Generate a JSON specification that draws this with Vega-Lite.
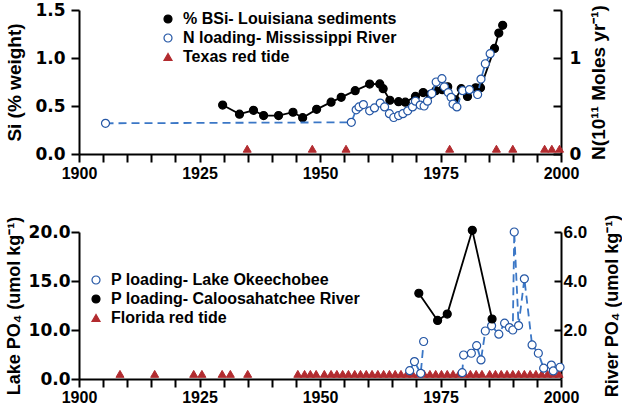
{
  "$schema": "https://vega.github.io/schema/vega-lite/v6.json",
  "padding": {"left": 5, "top": 1, "right": 0, "bottom": 0},
  "background": "white",
  "config": {
    "view": {"stroke": null},
    "font": "Liberation Sans",
    "axis": {"domainColor": "black", "domainWidth": 2, "tickColor": "black", "tickWidth": 2, "tickSize": 8, "labelFont": "Liberation Sans", "labelFontWeight": "bold", "labelColor": "black", "labelFontSize": 17, "grid": false, "titleFont": "Liberation Sans", "titleFontWeight": "bold", "titleColor": "black", "titleFontSize": 18, "labelPadding": 4},
    "legend": {"labelFont": "Liberation Sans", "labelFontSize": 16, "labelFontWeight": "bold", "labelColor": "black", "labelLimit": 400, "symbolStrokeWidth": 1.2, "rowPadding": 3, "labelOffset": 7, "padding": 0, "symbolOpacity": 1}
  },
  "datasets": {
    "west": [
      {"series": "% BSi- Louisiana sediments", "year": 1929.8, "value": 0.51},
      {"series": "% BSi- Louisiana sediments", "year": 1933.3, "value": 0.415},
      {"series": "% BSi- Louisiana sediments", "year": 1936.2, "value": 0.455},
      {"series": "% BSi- Louisiana sediments", "year": 1938.3, "value": 0.4},
      {"series": "% BSi- Louisiana sediments", "year": 1941.4, "value": 0.4},
      {"series": "% BSi- Louisiana sediments", "year": 1944.4, "value": 0.435},
      {"series": "% BSi- Louisiana sediments", "year": 1946.4, "value": 0.378},
      {"series": "% BSi- Louisiana sediments", "year": 1949.3, "value": 0.465},
      {"series": "% BSi- Louisiana sediments", "year": 1952.3, "value": 0.54},
      {"series": "% BSi- Louisiana sediments", "year": 1954.4, "value": 0.59},
      {"series": "% BSi- Louisiana sediments", "year": 1957.3, "value": 0.66},
      {"series": "% BSi- Louisiana sediments", "year": 1960.3, "value": 0.728},
      {"series": "% BSi- Louisiana sediments", "year": 1962.4, "value": 0.73},
      {"series": "% BSi- Louisiana sediments", "year": 1963.1, "value": 0.68},
      {"series": "% BSi- Louisiana sediments", "year": 1964.5, "value": 0.56},
      {"series": "% BSi- Louisiana sediments", "year": 1966.3, "value": 0.545},
      {"series": "% BSi- Louisiana sediments", "year": 1967.7, "value": 0.54},
      {"series": "% BSi- Louisiana sediments", "year": 1969.8, "value": 0.6},
      {"series": "% BSi- Louisiana sediments", "year": 1971.4, "value": 0.64},
      {"series": "% BSi- Louisiana sediments", "year": 1972.8, "value": 0.62},
      {"series": "% BSi- Louisiana sediments", "year": 1974.0, "value": 0.66},
      {"series": "% BSi- Louisiana sediments", "year": 1975.4, "value": 0.67},
      {"series": "% BSi- Louisiana sediments", "year": 1976.5, "value": 0.7},
      {"series": "% BSi- Louisiana sediments", "year": 1978.1, "value": 0.565},
      {"series": "% BSi- Louisiana sediments", "year": 1979.3, "value": 0.68},
      {"series": "% BSi- Louisiana sediments", "year": 1980.6, "value": 0.6},
      {"series": "% BSi- Louisiana sediments", "year": 1982.3, "value": 0.69},
      {"series": "% BSi- Louisiana sediments", "year": 1983.3, "value": 0.69},
      {"series": "% BSi- Louisiana sediments", "year": 1986.2, "value": 1.1},
      {"series": "% BSi- Louisiana sediments", "year": 1987.1, "value": 1.26},
      {"series": "% BSi- Louisiana sediments", "year": 1987.9, "value": 1.34},
      {"series": "N loading- Mississippi River", "year": 1905.5, "value": 0.32},
      {"series": "N loading- Mississippi River", "year": 1956.5, "value": 0.33},
      {"series": "N loading- Mississippi River", "year": 1957.5, "value": 0.46},
      {"series": "N loading- Mississippi River", "year": 1958.1, "value": 0.49},
      {"series": "N loading- Mississippi River", "year": 1959.0, "value": 0.515},
      {"series": "N loading- Mississippi River", "year": 1960.3, "value": 0.45},
      {"series": "N loading- Mississippi River", "year": 1961.3, "value": 0.48},
      {"series": "N loading- Mississippi River", "year": 1962.5, "value": 0.53},
      {"series": "N loading- Mississippi River", "year": 1963.4, "value": 0.49},
      {"series": "N loading- Mississippi River", "year": 1964.4, "value": 0.42},
      {"series": "N loading- Mississippi River", "year": 1965.3, "value": 0.38},
      {"series": "N loading- Mississippi River", "year": 1966.3, "value": 0.4},
      {"series": "N loading- Mississippi River", "year": 1967.2, "value": 0.42},
      {"series": "N loading- Mississippi River", "year": 1968.2, "value": 0.45},
      {"series": "N loading- Mississippi River", "year": 1969.2, "value": 0.49},
      {"series": "N loading- Mississippi River", "year": 1969.8, "value": 0.55},
      {"series": "N loading- Mississippi River", "year": 1970.8, "value": 0.51},
      {"series": "N loading- Mississippi River", "year": 1971.6, "value": 0.5},
      {"series": "N loading- Mississippi River", "year": 1972.3, "value": 0.55},
      {"series": "N loading- Mississippi River", "year": 1973.2, "value": 0.63},
      {"series": "N loading- Mississippi River", "year": 1974.1, "value": 0.75},
      {"series": "N loading- Mississippi River", "year": 1975.3, "value": 0.785},
      {"series": "N loading- Mississippi River", "year": 1975.8, "value": 0.7},
      {"series": "N loading- Mississippi River", "year": 1976.6, "value": 0.64},
      {"series": "N loading- Mississippi River", "year": 1977.2, "value": 0.59},
      {"series": "N loading- Mississippi River", "year": 1977.6, "value": 0.52},
      {"series": "N loading- Mississippi River", "year": 1978.4, "value": 0.49},
      {"series": "N loading- Mississippi River", "year": 1979.6, "value": 0.66},
      {"series": "N loading- Mississippi River", "year": 1981.0, "value": 0.67},
      {"series": "N loading- Mississippi River", "year": 1982.7, "value": 0.62},
      {"series": "N loading- Mississippi River", "year": 1983.4, "value": 0.78},
      {"series": "N loading- Mississippi River", "year": 1984.3, "value": 0.94},
      {"series": "N loading- Mississippi River", "year": 1985.3, "value": 1.045},
      {"series": "Texas red tide", "year": 1934.9},
      {"series": "Texas red tide", "year": 1948.4},
      {"series": "Texas red tide", "year": 1955.4},
      {"series": "Texas red tide", "year": 1976.9},
      {"series": "Texas red tide", "year": 1986.6},
      {"series": "Texas red tide", "year": 1990.0},
      {"series": "Texas red tide", "year": 1996.6},
      {"series": "Texas red tide", "year": 1998.1},
      {"series": "Texas red tide", "year": 1999.7}
    ],
    "east": [
      {"series": "P loading- Lake Okeechobee", "seg": 1, "year": 1968.6, "value": 0.34},
      {"series": "P loading- Lake Okeechobee", "seg": 1, "year": 1969.6, "value": 0.71},
      {"series": "P loading- Lake Okeechobee", "seg": 1, "year": 1970.9, "value": 0.23},
      {"series": "P loading- Lake Okeechobee", "seg": 1, "year": 1971.5, "value": 1.53},
      {"series": "P loading- Lake Okeechobee", "seg": 2, "year": 1979.5, "value": 0.26},
      {"series": "P loading- Lake Okeechobee", "seg": 2, "year": 1979.8, "value": 0.98},
      {"series": "P loading- Lake Okeechobee", "seg": 2, "year": 1981.4, "value": 1.05},
      {"series": "P loading- Lake Okeechobee", "seg": 2, "year": 1982.5, "value": 1.36},
      {"series": "P loading- Lake Okeechobee", "seg": 2, "year": 1983.4, "value": 0.78},
      {"series": "P loading- Lake Okeechobee", "seg": 2, "year": 1984.3, "value": 1.96},
      {"series": "P loading- Lake Okeechobee", "seg": 2, "year": 1985.6, "value": 2.17},
      {"series": "P loading- Lake Okeechobee", "seg": 2, "year": 1987.1, "value": 1.83},
      {"series": "P loading- Lake Okeechobee", "seg": 2, "year": 1988.3, "value": 2.28},
      {"series": "P loading- Lake Okeechobee", "seg": 2, "year": 1989.3, "value": 2.1},
      {"series": "P loading- Lake Okeechobee", "seg": 2, "year": 1990.0, "value": 2.0},
      {"series": "P loading- Lake Okeechobee", "seg": 2, "year": 1990.3, "value": 6.0},
      {"series": "P loading- Lake Okeechobee", "seg": 2, "year": 1991.2, "value": 2.18},
      {"series": "P loading- Lake Okeechobee", "seg": 2, "year": 1992.4, "value": 4.09},
      {"series": "P loading- Lake Okeechobee", "seg": 2, "year": 1994.0, "value": 1.39},
      {"series": "P loading- Lake Okeechobee", "seg": 2, "year": 1995.3, "value": 1.05},
      {"series": "P loading- Lake Okeechobee", "seg": 2, "year": 1996.4, "value": 0.44},
      {"series": "P loading- Lake Okeechobee", "seg": 2, "year": 1998.0, "value": 0.57},
      {"series": "P loading- Lake Okeechobee", "seg": 2, "year": 1998.4, "value": 0.33},
      {"series": "P loading- Lake Okeechobee", "seg": 2, "year": 1999.8, "value": 0.48},
      {"series": "P loading- Caloosahatchee River", "seg": 1, "year": 1970.5, "value": 3.5},
      {"series": "P loading- Caloosahatchee River", "seg": 1, "year": 1974.4, "value": 2.39},
      {"series": "P loading- Caloosahatchee River", "seg": 1, "year": 1976.4, "value": 2.65},
      {"series": "P loading- Caloosahatchee River", "seg": 1, "year": 1981.6, "value": 6.07},
      {"series": "P loading- Caloosahatchee River", "seg": 1, "year": 1985.7, "value": 2.45},
      {"series": "Florida red tide", "year": 1908.5},
      {"series": "Florida red tide", "year": 1915.7},
      {"series": "Florida red tide", "year": 1923.8},
      {"series": "Florida red tide", "year": 1925.5},
      {"series": "Florida red tide", "year": 1929.7},
      {"series": "Florida red tide", "year": 1931.4},
      {"series": "Florida red tide", "year": 1935.0},
      {"series": "Florida red tide", "year": 1945.4},
      {"series": "Florida red tide", "year": 1946.8},
      {"series": "Florida red tide", "year": 1948.0},
      {"series": "Florida red tide", "year": 1949.2},
      {"series": "Florida red tide", "year": 1950.9},
      {"series": "Florida red tide", "year": 1952.3},
      {"series": "Florida red tide", "year": 1953.5},
      {"series": "Florida red tide", "year": 1954.7},
      {"series": "Florida red tide", "year": 1955.9},
      {"series": "Florida red tide", "year": 1957.2},
      {"series": "Florida red tide", "year": 1958.4},
      {"series": "Florida red tide", "year": 1959.6},
      {"series": "Florida red tide", "year": 1960.8},
      {"series": "Florida red tide", "year": 1962.0},
      {"series": "Florida red tide", "year": 1963.2},
      {"series": "Florida red tide", "year": 1964.4},
      {"series": "Florida red tide", "year": 1965.6},
      {"series": "Florida red tide", "year": 1966.8},
      {"series": "Florida red tide", "year": 1968.0},
      {"series": "Florida red tide", "year": 1969.2},
      {"series": "Florida red tide", "year": 1970.4},
      {"series": "Florida red tide", "year": 1971.6},
      {"series": "Florida red tide", "year": 1972.8},
      {"series": "Florida red tide", "year": 1974.0},
      {"series": "Florida red tide", "year": 1975.2},
      {"series": "Florida red tide", "year": 1976.4},
      {"series": "Florida red tide", "year": 1977.6},
      {"series": "Florida red tide", "year": 1978.8},
      {"series": "Florida red tide", "year": 1980.0},
      {"series": "Florida red tide", "year": 1981.2},
      {"series": "Florida red tide", "year": 1982.4},
      {"series": "Florida red tide", "year": 1983.6},
      {"series": "Florida red tide", "year": 1985.2},
      {"series": "Florida red tide", "year": 1986.4},
      {"series": "Florida red tide", "year": 1987.6},
      {"series": "Florida red tide", "year": 1988.8},
      {"series": "Florida red tide", "year": 1990.0},
      {"series": "Florida red tide", "year": 1991.2},
      {"series": "Florida red tide", "year": 1992.4},
      {"series": "Florida red tide", "year": 1993.6},
      {"series": "Florida red tide", "year": 1994.8},
      {"series": "Florida red tide", "year": 1996.0},
      {"series": "Florida red tide", "year": 1997.2},
      {"series": "Florida red tide", "year": 1998.4},
      {"series": "Florida red tide", "year": 1999.6}
    ]
  },
  "vconcat": [
    {
      "width": 482,
      "height": 144,
      "data": {"name": "west"},
      "encoding": {
        "x": {"field": "year", "type": "quantitative", "scale": {"domain": [1900, 2000], "nice": false, "zero": false},
              "axis": {"title": null, "values": [1900,1905,1910,1915,1920,1925,1930,1935,1940,1945,1950,1955,1960,1965,1970,1975,1980,1985,1990,1995,2000], "format": "d", "labelExpr": "datum.value % 25 == 0 ? datum.label : ''", "labelFontSize": 16, "labelFlush": false, "labelOverlap": false, "labelPadding": 3}}
      },
      "layer": [
        {
          "layer": [
            {
              "transform": [{"filter": "datum.series == '% BSi- Louisiana sediments'"}],
              "mark": {"type": "line", "color": "black", "strokeWidth": 1.8},
              "encoding": {"y": {"field": "value", "type": "quantitative", "scale": {"domain": [0, 1.5], "nice": false}, "axis": {"values": [0, 0.5, 1, 1.5], "format": ".1f", "title": "Si (% weight)", "titleFontSize": 19, "titlePadding": 10, "labelFont": "DejaVu Sans", "labelFontSize": 17, "labelPadding": 6}}}
            },
            {
              "transform": [{"filter": "datum.series == '% BSi- Louisiana sediments'"}],
              "mark": {"type": "point", "opacity": 1, "strokeWidth": 1.2},
              "encoding": {
                "y": {"field": "value", "type": "quantitative", "scale": {"domain": [0, 1.5], "nice": false}, "axis": {"values": [0, 0.5, 1, 1.5], "format": ".1f", "title": "Si (% weight)", "titleFontSize": 19, "titlePadding": 10, "labelFont": "DejaVu Sans", "labelFontSize": 17, "labelPadding": 6}},
                "shape": {"field": "series", "type": "nominal", "scale": {"domain": ["% BSi- Louisiana sediments", "N loading- Mississippi River", "Texas red tide"], "range": ["circle", "circle", "triangle-up"]}, "legend": {"orient": "none", "legendX": 81, "legendY": 1, "title": null}},
                "fill": {"field": "series", "type": "nominal", "scale": {"domain": ["% BSi- Louisiana sediments", "N loading- Mississippi River", "Texas red tide"], "range": ["black", "white", "#b22b2f"]}, "legend": {"orient": "none", "legendX": 81, "legendY": 1, "title": null}},
                "stroke": {"field": "series", "type": "nominal", "scale": {"domain": ["% BSi- Louisiana sediments", "N loading- Mississippi River", "Texas red tide"], "range": ["black", "#2456a5", "#b22b2f"]}, "legend": {"orient": "none", "legendX": 81, "legendY": 1, "title": null}},
                "size": {"field": "series", "type": "nominal", "scale": {"domain": ["% BSi- Louisiana sediments", "N loading- Mississippi River", "Texas red tide"], "range": [64, 64, 140]}, "legend": {"orient": "none", "legendX": 81, "legendY": 1, "title": null}}
              }
            },
            {
              "transform": [{"filter": "datum.series == 'Texas red tide'"}],
              "mark": {"type": "point", "opacity": 1, "strokeWidth": 1},
              "encoding": {
                "y": {"datum": 0.055, "type": "quantitative", "scale": {"domain": [0, 1.5], "nice": false}, "axis": {"values": [0, 0.5, 1, 1.5], "format": ".1f", "title": "Si (% weight)", "titleFontSize": 19, "titlePadding": 10, "labelFont": "DejaVu Sans", "labelFontSize": 17, "labelPadding": 6}},
                "shape": {"field": "series", "type": "nominal", "legend": {"orient": "none", "legendX": 81, "legendY": 1, "title": null}},
                "fill": {"field": "series", "type": "nominal", "legend": {"orient": "none", "legendX": 81, "legendY": 1, "title": null}},
                "stroke": {"field": "series", "type": "nominal", "legend": {"orient": "none", "legendX": 81, "legendY": 1, "title": null}},
                "size": {"field": "series", "type": "nominal", "legend": {"orient": "none", "legendX": 81, "legendY": 1, "title": null}}
              }
            },
            {
              "data": {"values": [{"label": "A) West:"}]},
              "mark": {"type": "text", "align": "left", "baseline": "middle", "fontSize": 21, "fontWeight": "bold", "font": "Liberation Sans", "color": "black"},
              "encoding": {"x": {"datum": 1905.5}, "y": {"datum": 1.215}, "text": {"field": "label"}}
            }
          ]
        },
        {
          "layer": [
            {
              "transform": [{"filter": "datum.series == 'N loading- Mississippi River'"}],
              "mark": {"type": "line", "color": "#3b77c6", "strokeWidth": 1.8, "strokeDash": [8, 5]},
              "encoding": {"y": {"field": "value", "type": "quantitative", "scale": {"domain": [0, 1.5], "nice": false}, "axis": {"orient": "right", "values": [0, 0.5, 1, 1.5], "labelExpr": "datum.value == 0 ? '0' : datum.value == 1 ? '1' : ''", "title": "N(10¹¹ Moles yr⁻¹)", "titleAngle": 270, "titleBaseline": "top", "titleFontSize": 19, "titlePadding": 9, "tickSize": -8, "labelPadding": 16, "labelFont": "DejaVu Sans", "labelFontSize": 17}}}
            },
            {
              "transform": [{"filter": "datum.series == 'N loading- Mississippi River'"}],
              "mark": {"type": "point", "opacity": 1, "strokeWidth": 1.2},
              "encoding": {
                "y": {"field": "value", "type": "quantitative", "scale": {"domain": [0, 1.5], "nice": false}, "axis": {"orient": "right", "values": [0, 0.5, 1, 1.5], "labelExpr": "datum.value == 0 ? '0' : datum.value == 1 ? '1' : ''", "title": "N(10¹¹ Moles yr⁻¹)", "titleAngle": 270, "titleBaseline": "top", "titleFontSize": 19, "titlePadding": 9, "tickSize": -8, "labelPadding": 16, "labelFont": "DejaVu Sans", "labelFontSize": 17}},
                "shape": {"field": "series", "type": "nominal", "legend": {"orient": "none", "legendX": 81, "legendY": 1, "title": null}},
                "fill": {"field": "series", "type": "nominal", "legend": {"orient": "none", "legendX": 81, "legendY": 1, "title": null}},
                "stroke": {"field": "series", "type": "nominal", "legend": {"orient": "none", "legendX": 81, "legendY": 1, "title": null}},
                "size": {"field": "series", "type": "nominal", "legend": {"orient": "none", "legendX": 81, "legendY": 1, "title": null}}
              }
            }
          ]
        }
      ],
      "resolve": {"scale": {"y": "independent"}}
    },
    {
      "width": 482,
      "height": 147,
      "data": {"name": "east"},
      "encoding": {
        "x": {"field": "year", "type": "quantitative", "scale": {"domain": [1900, 2000], "nice": false, "zero": false},
              "axis": {"title": null, "values": [1900,1905,1910,1915,1920,1925,1930,1935,1940,1945,1950,1955,1960,1965,1970,1975,1980,1985,1990,1995,2000], "format": "d", "labelExpr": "datum.value % 25 == 0 ? datum.label : ''", "labelFontSize": 16, "labelFlush": false, "labelOverlap": false, "labelPadding": 2}}
      },
      "layer": [
        {
          "layer": [
            {
              "transform": [{"filter": "datum.series == 'P loading- Lake Okeechobee'"}],
              "mark": {"type": "line", "color": "#3b77c6", "strokeWidth": 1.8, "strokeDash": [8, 5]},
              "encoding": {
                "detail": {"field": "seg"},
                "y": {"field": "value", "type": "quantitative", "scale": {"domain": [0, 6], "nice": false}, "axis": {"values": [0, 2, 4, 6], "labelExpr": "datum.value == 0 ? '0.0' : datum.value == 2 ? '10.0' : datum.value == 4 ? '15.0' : '20.0'", "title": "Lake PO₄ (umol kg⁻¹)", "titlePadding": 5, "labelFont": "DejaVu Sans", "labelFontSize": 17, "labelPadding": 1}}}
            },
            {
              "transform": [{"filter": "datum.series == 'Florida red tide'"}],
              "mark": {"type": "point", "opacity": 1, "strokeWidth": 1},
              "encoding": {
                "y": {"datum": 0.21, "type": "quantitative", "scale": {"domain": [0, 6], "nice": false}, "axis": {"values": [0, 2, 4, 6], "labelExpr": "datum.value == 0 ? '0.0' : datum.value == 2 ? '10.0' : datum.value == 4 ? '15.0' : '20.0'", "title": "Lake PO₄ (umol kg⁻¹)", "titlePadding": 5, "labelFont": "DejaVu Sans", "labelFontSize": 17, "labelPadding": 1}},
                "shape": {"field": "series", "type": "nominal", "scale": {"domain": ["P loading- Lake Okeechobee", "P loading- Caloosahatchee River", "Florida red tide"], "range": ["circle", "circle", "triangle-up"]}, "legend": {"orient": "none", "legendX": 9, "legendY": 40, "title": null}},
                "fill": {"field": "series", "type": "nominal", "scale": {"domain": ["P loading- Lake Okeechobee", "P loading- Caloosahatchee River", "Florida red tide"], "range": ["white", "black", "#b22b2f"]}, "legend": {"orient": "none", "legendX": 9, "legendY": 40, "title": null}},
                "stroke": {"field": "series", "type": "nominal", "scale": {"domain": ["P loading- Lake Okeechobee", "P loading- Caloosahatchee River", "Florida red tide"], "range": ["#2456a5", "black", "#b22b2f"]}, "legend": {"orient": "none", "legendX": 9, "legendY": 40, "title": null}},
                "size": {"field": "series", "type": "nominal", "scale": {"domain": ["P loading- Lake Okeechobee", "P loading- Caloosahatchee River", "Florida red tide"], "range": [64, 64, 140]}, "legend": {"orient": "none", "legendX": 9, "legendY": 40, "title": null}}
              }
            },
            {
              "transform": [{"filter": "datum.series == 'P loading- Lake Okeechobee'"}],
              "mark": {"type": "point", "opacity": 1, "strokeWidth": 1.2},
              "encoding": {
                "y": {"field": "value", "type": "quantitative", "scale": {"domain": [0, 6], "nice": false}, "axis": {"values": [0, 2, 4, 6], "labelExpr": "datum.value == 0 ? '0.0' : datum.value == 2 ? '10.0' : datum.value == 4 ? '15.0' : '20.0'", "title": "Lake PO₄ (umol kg⁻¹)", "titlePadding": 5, "labelFont": "DejaVu Sans", "labelFontSize": 17, "labelPadding": 1}},
                "shape": {"field": "series", "type": "nominal", "legend": {"orient": "none", "legendX": 9, "legendY": 40, "title": null}},
                "fill": {"field": "series", "type": "nominal", "legend": {"orient": "none", "legendX": 9, "legendY": 40, "title": null}},
                "stroke": {"field": "series", "type": "nominal", "legend": {"orient": "none", "legendX": 9, "legendY": 40, "title": null}},
                "size": {"field": "series", "type": "nominal", "legend": {"orient": "none", "legendX": 9, "legendY": 40, "title": null}}
              }
            },
            {
              "data": {"values": [{"label": "B) East"}]},
              "mark": {"type": "text", "align": "left", "baseline": "middle", "fontSize": 21, "fontWeight": "bold", "font": "Liberation Sans", "color": "black"},
              "encoding": {"x": {"datum": 1902.2}, "y": {"datum": 5.1}, "text": {"field": "label"}}
            }
          ]
        },
        {
          "layer": [
            {
              "transform": [{"filter": "datum.series == 'P loading- Caloosahatchee River'"}],
              "mark": {"type": "line", "color": "black", "strokeWidth": 1.8},
              "encoding": {"y": {"field": "value", "type": "quantitative", "scale": {"domain": [0, 6], "nice": false}, "axis": {"orient": "right", "values": [2, 4, 6], "format": ".1f", "title": "River PO₄ (umol kg⁻¹)", "titleAngle": 270, "titleBaseline": "top", "titlePadding": 17, "tickSize": -7, "labelPadding": 9}}}
            },
            {
              "transform": [{"filter": "datum.series == 'P loading- Caloosahatchee River'"}],
              "mark": {"type": "point", "opacity": 1, "strokeWidth": 1.2},
              "encoding": {
                "y": {"field": "value", "type": "quantitative", "scale": {"domain": [0, 6], "nice": false}, "axis": {"orient": "right", "values": [2, 4, 6], "format": ".1f", "title": "River PO₄ (umol kg⁻¹)", "titleAngle": 270, "titleBaseline": "top", "titlePadding": 17, "tickSize": -7, "labelPadding": 9}},
                "shape": {"field": "series", "type": "nominal", "legend": {"orient": "none", "legendX": 9, "legendY": 40, "title": null}},
                "fill": {"field": "series", "type": "nominal", "legend": {"orient": "none", "legendX": 9, "legendY": 40, "title": null}},
                "stroke": {"field": "series", "type": "nominal", "legend": {"orient": "none", "legendX": 9, "legendY": 40, "title": null}},
                "size": {"field": "series", "type": "nominal", "legend": {"orient": "none", "legendX": 9, "legendY": 40, "title": null}}
              }
            }
          ]
        }
      ],
      "resolve": {"scale": {"y": "independent"}}
    }
  ],
  "spacing": 33,
  "resolve": {
    "scale": {"shape": "independent", "fill": "independent", "stroke": "independent", "size": "independent"},
    "legend": {"shape": "independent", "fill": "independent", "stroke": "independent", "size": "independent"}
  }
}
